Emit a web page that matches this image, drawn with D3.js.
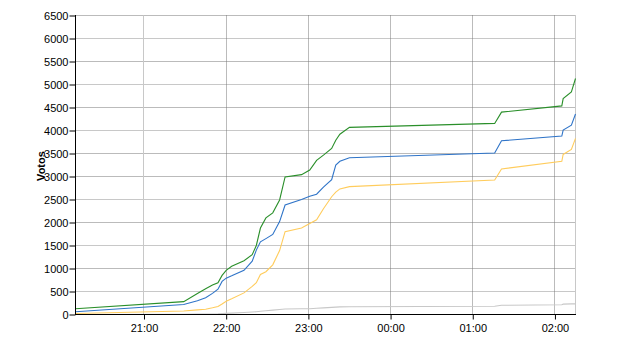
<!DOCTYPE html>
<html>
<head>
<meta charset="utf-8">
<script src="https://cdn.jsdelivr.net/npm/d3@7"></script>
<style>
  body { margin: 0; background: #fff; }
  svg { display: block; font-family: Arial, "Liberation Sans", sans-serif; font-size: 11px; }
</style>
</head>
<body>
<script>
// horas de las lecturas
var times = ["20:10", "21:29", "21:39", "21:45", "21:50", "21:54", "21:57", "22:00", "22:04", "22:13",
             "22:19", "22:22", "22:25", "22:29", "22:34", "22:39", "22:43", "22:55", "23:01", "23:06",
             "23:11", "23:17", "23:20", "23:23", "23:30", "01:16", "01:21", "02:05", "02:06", "02:12", "02:15"];

// votos por serie
var verde = [125, 280, 455, 560, 640, 690, 850, 960, 1050, 1170,
             1300, 1500, 1880, 2100, 2210, 2490, 2990, 3040, 3140, 3350,
             3465, 3610, 3790, 3920, 4067, 4154, 4400, 4535, 4695, 4840, 5130];
var azul = [60, 217, 300, 365, 460, 550, 720, 790, 840, 960,
            1160, 1400, 1580, 1650, 1740, 2020, 2380, 2500, 2570, 2615,
            2770, 2930, 3250, 3330, 3409, 3510, 3777, 3880, 4010, 4117, 4360];
var amarillo = [22, 75, 100, 115, 145, 175, 230, 288, 340, 470,
                610, 690, 870, 930, 1080, 1390, 1800, 1880, 1980, 2060,
                2300, 2560, 2660, 2730, 2780, 2925, 3165, 3330, 3480, 3590, 3830];
var gris = [0, 5, 8, 10, 12, 15, 20, 25, 30, 45,
            55, 60, 70, 80, 95, 110, 120, 125, 125, 135,
            145, 155, 160, 165, 168, 180, 200, 212, 225, 230, 232];

var yTicks = [0, 500, 1000, 1500, 2000, 2500, 3000, 3500, 4000, 4500, 5000, 5500, 6000, 6500];

// estilos
var width = 640, height = 350;
var plotLeft = 75.5, plotRight = 575.5, plotTop = 15.5, plotBottom = 314.5;
var dottedY = [1000, 2000, 3000, 3500, 4500, 5500, 6500];
var series = [
  { values: gris, color: "#c8c8c8" },
  { values: amarillo, color: "#ffcc5c" },
  { values: azul, color: "#2f74c8" },
  { values: verde, color: "#2a8f2a" }
];

// convertir hora a fecha (después de medianoche es el día siguiente)
function parseHora(s) {
  var p = s.split(":").map(Number);
  var day = p[0] < 12 ? 2 : 1;
  return new Date(2000, 0, day, p[0], p[1]);
}
var dates = times.map(parseHora);

var svg = d3.select("body").append("svg").attr("width", width).attr("height", height);

var x = d3.scaleTime().domain(d3.extent(dates)).range([plotLeft, plotRight]);
var y = d3.scaleLinear().domain([0, 6500]).range([plotBottom, plotTop]);

var xTicks = d3.timeHour.range(new Date(2000, 0, 1, 21), new Date(2000, 0, 2, 3));

// rejilla
var grid = svg.append("g");
grid.selectAll("line.h")
  .data(yTicks.filter(function(d) { return d > 0; }))
  .enter().append("line")
  .attr("x1", plotLeft).attr("x2", plotRight)
  .attr("y1", function(d) { return Math.round(y(d) - 0.5) + 0.5; })
  .attr("y2", function(d) { return Math.round(y(d) - 0.5) + 0.5; })
  .attr("stroke", function(d) { return dottedY.indexOf(d) >= 0 ? "#777" : "#c8c8c8"; })
  .attr("stroke-dasharray", function(d) { return dottedY.indexOf(d) >= 0 ? "1,1" : null; });

grid.selectAll("line.v")
  .data(xTicks)
  .enter().append("line")
  .attr("x1", function(d) { return Math.round(x(d) - 0.5) + 0.5; })
  .attr("x2", function(d) { return Math.round(x(d) - 0.5) + 0.5; })
  .attr("y1", plotTop).attr("y2", plotBottom)
  .attr("stroke", function(d, i) { return i == 0 ? "#c8c8c8" : "#777"; })
  .attr("stroke-dasharray", function(d, i) { return i == 0 ? null : "1,1"; });

// borde derecho
svg.append("line").attr("x1", plotRight).attr("x2", plotRight).attr("y1", plotTop - 0.5).attr("y2", plotBottom)
  .attr("stroke", "#c8c8c8");

// líneas de las series
var line = d3.line()
  .x(function(d, i) { return x(dates[i]); })
  .y(function(d) { return y(d); });

svg.selectAll("path.serie")
  .data(series)
  .enter().append("path")
  .attr("class", "serie")
  .attr("fill", "none")
  .attr("stroke", function(d) { return d.color; })
  .attr("stroke-width", 1.1)
  .attr("d", function(d) { return line(d.values); });

// ejes
var yAxis = d3.axisLeft(y).tickValues(yTicks).tickFormat(d3.format("d"))
  .tickSize(6).tickPadding(1).tickSizeOuter(0);
var gy = svg.append("g").attr("transform", "translate(" + plotLeft + ",0)").call(yAxis);
gy.select(".domain").attr("d", "M0," + (plotTop - 0.5) + "V" + (plotBottom + 0.5));

var xAxis = d3.axisBottom(x).tickValues(xTicks).tickFormat(d3.timeFormat("%H:%M"))
  .tickSize(5).tickPadding(5).tickSizeOuter(0);
var gx = svg.append("g").attr("transform", "translate(0," + plotBottom + ")").call(xAxis);
gx.select(".domain").attr("d", "M" + (plotLeft - 0.5) + ",0H" + (plotRight + 0.5));

svg.selectAll(".tick text").attr("font-family", "Arial, 'Liberation Sans', sans-serif")
  .attr("font-size", 11).attr("fill", "#000");
svg.selectAll(".domain, .tick line").attr("stroke", "#000");

svg.append("text")
  .attr("transform", "translate(45,166) rotate(-90)")
  .attr("text-anchor", "middle")
  .attr("font-weight", "bold")
  .attr("font-size", 11)
  .text("Votos");
</script>
</body>
</html>
